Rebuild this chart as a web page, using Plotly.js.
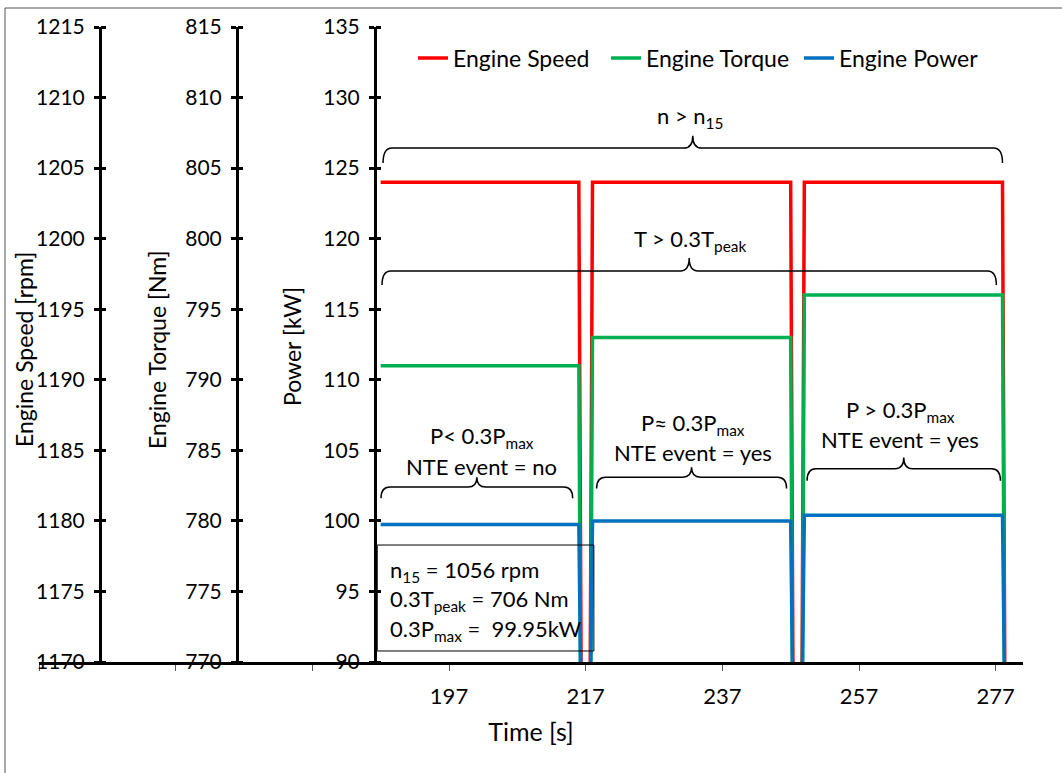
<!DOCTYPE html>
<html><head><meta charset="utf-8">
<script src="https://cdn.plot.ly/plotly-3.0.1.min.js"></script>
<style>html,body{margin:0;padding:0;background:#fff}</style>
</head><body><div id="chart" style="width:1062px;height:773px"></div>
<script>
// ---- data ----
const time = [187, 216, 217, 218, 247, 248, 249, 278, 279];
const engineSpeed = [1204, 1204, 1100, 1204, 1204, 1100, 1204, 1204, 1100];
const engineTorque = [791, 791, 700, 793, 793, 700, 796, 796, 700];
const enginePower = [99.75, 99.75, 60, 100.0, 100.0, 60, 100.4, 100.4, 60];

const xTickVals = [137, 157, 177, 197, 217, 237, 257, 277];
const xTickText = ['', '', '', '197', '217', '237', '257', '277'];
const speedRange = [1170, 1215];
const torqueRange = [770, 815];
const powerRange = [90, 135];

// ---- layout helpers ----
const FONT = 'Lato, "Open Sans", sans-serif';
const W = 1062, H = 773, ML = 39, MR = 39, MT = 27, MB = 111;
const PW = W - ML - MR, PH = H - MT - MB;
const px2paperX = X => (X - ML) / PW;
const px2paperY = Y => (H - MB - Y) / PH;

function brace(t1, t2, yH, yTip, yEnd, dx) {
  const tm = (t1 + t2) / 2;
  return `M${t1},${yEnd} Q${t1},${yH} ${t1+dx},${yH} L${tm-dx},${yH} Q${tm},${yH} ${tm},${yTip} ` +
         `Q${tm},${yH} ${tm+dx},${yH} L${t2-dx},${yH} Q${t2},${yH} ${t2},${yEnd}`;
}
const braceDefs = [
  [187.35, 278.0, 126.42, 127.30, 125.36],
  [187.2, 277.1, 117.71, 118.63, 116.71],
  [187.05, 215.1, 102.40, 103.10, 101.60],
  [218.6, 246.4, 103.10, 103.80, 102.30],
  [249.4, 277.7, 103.70, 104.50, 102.85]
];
const shapes = braceDefs.map(b => ({
  type: 'path', xref: 'x', yref: 'y3',
  path: brace(b[0], b[1], b[2], b[3], b[4], 1.3),
  line: {color: '#000', width: 1.5}
}));
shapes.push({type: 'rect', xref: 'x', yref: 'y3', x0: 186.5, x1: 218.2, y0: 90.78, y1: 98.29,
  line: {color: '#000', width: 1}, fillcolor: 'rgba(0,0,0,0)'});
shapes.push({type: 'rect', xref: 'paper', yref: 'paper',
  x0: px2paperX(5), x1: px2paperX(1300), y0: px2paperY(1000), y1: px2paperY(8),
  line: {color: '#555', width: 1}});

function ann(text, t, p, xanchor, size) {
  return {text: text, x: t, y: p, xref: 'x', yref: 'y3', showarrow: false,
    xanchor: xanchor || 'center', yanchor: 'middle', font: {family: FONT, size: size || 22, color: '#000'}};
}
function yTitle(text, X, Y) {
  return {text: text, x: px2paperX(X), y: px2paperY(Y), xref: 'paper', yref: 'paper', showarrow: false,
    textangle: -90, xanchor: 'center', yanchor: 'middle', font: {family: FONT, size: 23, color: '#000'}};
}
const annotations = [
  ann('n &gt; n<sub>15</sub>', 232.2, 128.62),
  ann('T &gt; 0.3T<sub>peak</sub>', 232.2, 119.9),
  ann('P&lt; 0.3P<sub>max</sub>', 201.8, 105.94),
  ann('NTE event = no', 201.8, 103.89),
  ann('P≈ 0.3P<sub>max</sub>', 232.7, 106.86),
  ann('NTE event = yes', 232.7, 104.88),
  ann('P &gt; 0.3P<sub>max</sub>', 263.0, 107.79),
  ann('NTE event = yes', 263.0, 105.8),
  ann('n<sub>15</sub> = 1056 rpm', 188.1, 96.45, 'left'),
  ann('0.3T<sub>peak</sub> = 706 Nm', 188.1, 94.39, 'left'),
  ann('0.3P<sub>max</sub> =&nbsp; 99.95kW', 188.1, 92.26, 'left'),
  yTitle('Engine Speed [rpm]', 24, 350),
  yTitle('Engine Torque [Nm]', 157, 350),
  yTitle('Power [kW]', 292, 347)
];

const posSpeed = px2paperX(100), posTorque = px2paperX(237), posPower = px2paperX(375);

function yAx(range, pos, extra) {
  return Object.assign({
    range: range, dtick: 5, tick0: range[0], anchor: 'free', position: pos, side: 'left',
    showline: true, linecolor: '#000', linewidth: 3, ticks: 'outside', ticklen: 5, tickwidth: 3,
    tickcolor: '#000', showgrid: false, zeroline: false, fixedrange: true,
    tickfont: {family: FONT, size: 21, color: '#000'}, ticklabelstandoff: 5
  }, extra || {});
}
function yTickMirror(range, pos) {
  return {range: range, dtick: 5, tick0: range[0], anchor: 'free', position: pos, side: 'right',
    overlaying: 'y', showline: false, ticks: 'outside', ticklen: 5, tickwidth: 3, tickcolor: '#000',
    showticklabels: false, showgrid: false, zeroline: false};
}

const traces = [
  {x: time, y: engineSpeed, name: 'Engine Speed', type: 'scatter', mode: 'lines', yaxis: 'y',
   line: {color: '#FF0000', width: 3.5}},
  {x: time, y: engineTorque, name: 'Engine Torque', type: 'scatter', mode: 'lines', yaxis: 'y2',
   line: {color: '#00B050', width: 3.5}},
  {x: time, y: enginePower, name: 'Engine Power', type: 'scatter', mode: 'lines', yaxis: 'y3',
   line: {color: '#0070C0', width: 3.5}},
  {x: [], y: [], yaxis: 'y4', showlegend: false, hoverinfo: 'skip'},
  {x: [], y: [], yaxis: 'y5', showlegend: false, hoverinfo: 'skip'},
  {x: [], y: [], yaxis: 'y6', showlegend: false, hoverinfo: 'skip'}
];

const layout = {
  width: W, height: H, margin: {l: ML, r: MR, t: MT, b: MB, pad: 0},
  paper_bgcolor: '#fff', plot_bgcolor: '#fff',
  font: {family: FONT, size: 20, color: '#000'},
  xaxis: {range: [137, 281], tickvals: xTickVals, ticktext: xTickText, ticks: 'outside',
    ticklen: 6, tickwidth: 1, tickcolor: '#555', showline: true, linecolor: '#000', linewidth: 2.5,
    showgrid: false, zeroline: false, fixedrange: true, ticklabelstandoff: 7,
    tickfont: {family: FONT, size: 22, color: '#000'},
    title: {text: 'Time [s]', font: {family: FONT, size: 25, color: '#000'}, standoff: 16}},
  yaxis: yAx(speedRange, posSpeed),
  yaxis2: yAx(torqueRange, posTorque, {overlaying: 'y'}),
  yaxis3: yAx(powerRange, posPower, {overlaying: 'y'}),
  yaxis4: yTickMirror(speedRange, posSpeed),
  yaxis5: yTickMirror(torqueRange, posTorque),
  yaxis6: yTickMirror(powerRange, posPower),
  showlegend: true,
  legend: {orientation: 'h', x: px2paperX(413), xanchor: 'left', y: px2paperY(58), yanchor: 'middle',
    font: {family: FONT, size: 23, color: '#000'}, bgcolor: 'rgba(0,0,0,0)', itemwidth: 30,
    entrywidth: 148, entrywidthmode: 'pixels'},
  shapes: shapes, annotations: annotations
};

Plotly.newPlot('chart', traces, layout, {displayModeBar: false, staticPlot: true});
</script></body></html>
